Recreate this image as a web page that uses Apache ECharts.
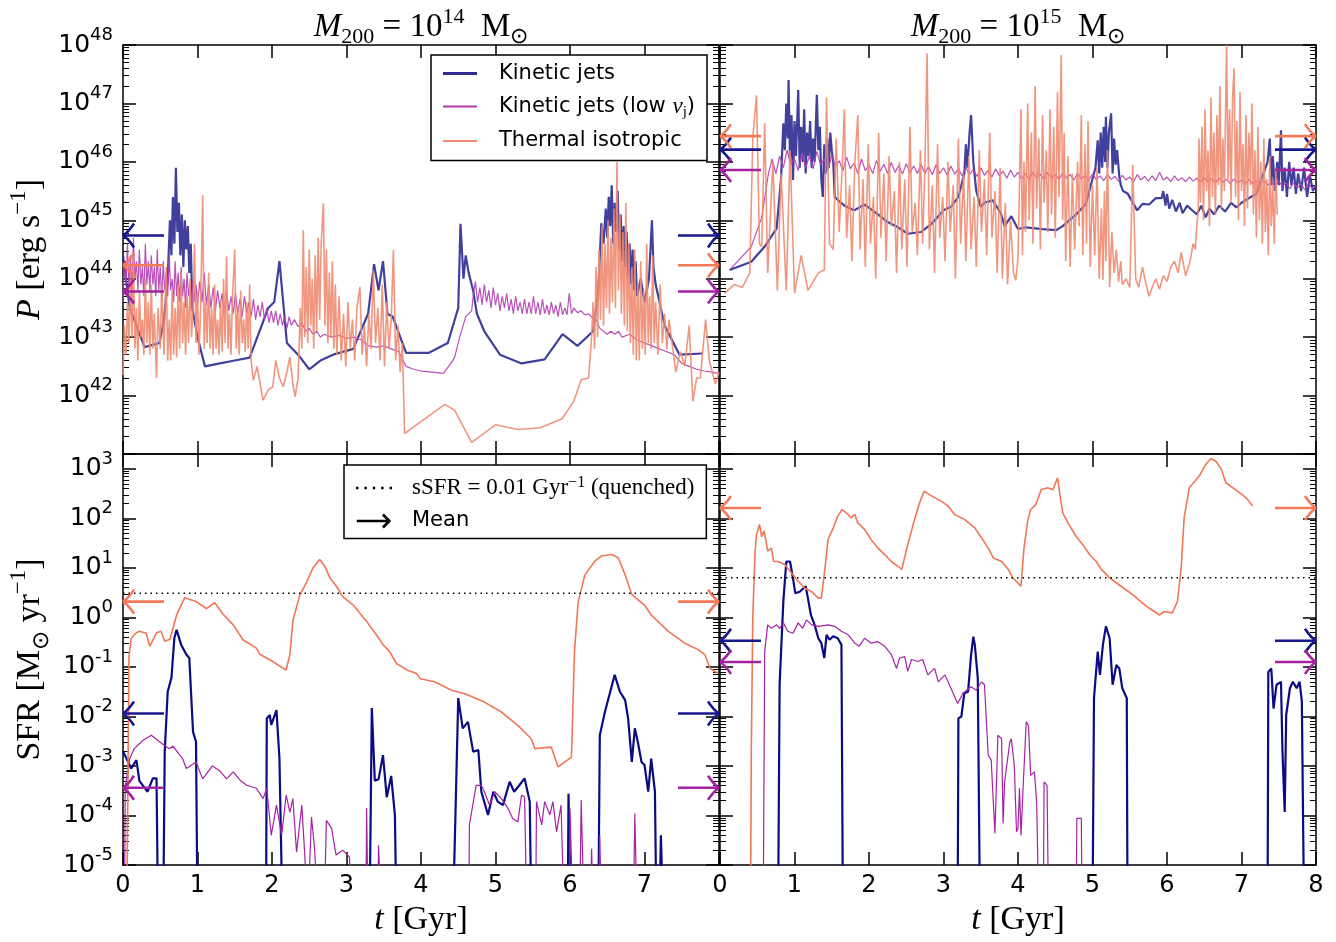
<!DOCTYPE html>
<html><head><meta charset="utf-8">
<script src="https://cdn.jsdelivr.net/npm/echarts@6/dist/echarts.min.js"></script>
<style>html,body{margin:0;padding:0;background:#fff}#c{width:1336px;height:942px}</style>
</head><body><div id="c"></div>
<script>
// ---------------- DATA (t in Gyr, values are log10) ----------------
// Jet power log10(P / erg s^-1), M200 = 1e14
const p14Kinetic = [[0,44.4],[0.04,44.0],[0.09,43.5],[0.29,42.83],[0.49,42.9],[0.55,43.3],[0.6,44.0],[0.63,45.0],[0.65,44.4],[0.67,45.4],[0.69,44.6],[0.71,45.9],[0.73,44.8],[0.75,45.3],[0.77,44.4],[0.79,45.1],[0.81,44.2],[0.83,45.0],[0.85,44.5],[0.87,44.9],[0.89,44.1],[0.91,44.6],[0.93,43.5],[1.0,43.0],[1.1,42.5],[1.3,42.55],[1.5,42.6],[1.7,42.65],[1.95,43.5],[2.03,43.6],[2.1,44.3],[2.2,42.9],[2.35,42.7],[2.5,42.45],[2.65,42.6],[2.82,42.7],[3.09,42.8],[3.29,43.4],[3.37,44.25],[3.43,43.8],[3.49,44.3],[3.55,43.4],[3.62,43.35],[3.8,42.73],[4.1,42.73],[4.36,42.9],[4.5,43.5],[4.53,44.94],[4.57,44.0],[4.6,44.4],[4.64,44.1],[4.7,43.8],[4.75,43.4],[4.85,43.1],[5.06,42.7],[5.35,42.55],[5.66,42.62],[5.9,43.05],[6.1,42.85],[6.31,43.1],[6.38,43.8],[6.42,44.95],[6.45,44.6],[6.48,45.2],[6.5,44.7],[6.52,45.4],[6.54,44.9],[6.56,45.6],[6.58,44.6],[6.6,45.3],[6.62,44.8],[6.64,45.5],[6.66,44.5],[6.68,45.1],[6.7,44.3],[6.72,44.9],[6.74,44.2],[6.76,44.8],[6.78,44.0],[6.8,44.6],[6.82,43.9],[6.84,44.5],[6.86,43.8],[6.88,44.3],[6.9,43.7],[6.95,44.0],[7.0,43.6],[7.06,44.0],[7.1,45.0],[7.12,44.2],[7.15,43.9],[7.27,43.2],[7.47,42.7],[7.78,42.72]];
const p14LowVj = [[0,43.6],[0.02,44.3],[0.04,43.9],[0.06,44.6],[0.08,43.8],[0.1,44.4],[0.12,43.7],[0.14,44.7],[0.16,44.0],[0.18,44.3],[0.2,43.8],[0.22,44.5],[0.24,43.9],[0.26,44.2],[0.28,43.7],[0.3,44.6],[0.32,43.9],[0.34,44.3],[0.36,43.8],[0.38,44.4],[0.4,43.9],[0.42,44.2],[0.44,43.7],[0.46,44.5],[0.48,43.8],[0.5,44.2],[0.52,43.6],[0.54,44.3],[0.56,43.8],[0.58,44.1],[0.6,43.7],[0.62,44.4],[0.64,43.8],[0.66,44.0],[0.68,43.6],[0.7,44.3],[0.72,43.7],[0.74,44.1],[0.76,43.6],[0.78,44.2],[0.8,43.7],[0.82,44.0],[0.84,43.5],[0.86,44.1],[0.88,43.7],[0.9,43.9],[0.92,43.5],[0.94,44.0],[0.96,43.6],[0.98,43.9],[1.0,43.55],[1.03,43.95],[1.06,43.6],[1.09,44.1],[1.12,43.55],[1.15,43.9],[1.18,43.5],[1.21,43.85],[1.24,43.45],[1.27,43.8],[1.3,43.5],[1.33,43.75],[1.36,43.4],[1.39,43.8],[1.42,43.45],[1.45,43.7],[1.48,43.4],[1.51,43.75],[1.54,43.4],[1.57,43.65],[1.6,43.35],[1.63,43.7],[1.66,43.4],[1.69,43.6],[1.72,43.35],[1.75,43.65],[1.78,43.3],[1.81,43.55],[1.84,43.35],[1.87,43.6],[1.9,43.3],[1.93,43.5],[1.96,43.25],[1.99,43.45],[2.02,43.25],[2.05,43.45],[2.08,43.2],[2.11,43.4],[2.14,43.2],[2.17,43.35],[2.2,43.15],[2.23,43.35],[2.26,43.2],[2.3,43.3],[2.35,43.18],[2.4,43.25],[2.45,43.1],[2.5,43.15],[2.55,43.05],[2.6,43.1],[2.65,43.0],[2.7,43.05],[2.8,43.0],[2.9,43.03],[3.0,42.98],[3.1,43.0],[3.2,42.95],[3.3,42.85],[3.4,42.83],[3.5,42.85],[3.6,42.8],[3.7,42.75],[3.8,42.5],[3.9,42.45],[4.0,42.42],[4.15,42.4],[4.3,42.38],[4.4,42.55],[4.45,42.65],[4.52,43.0],[4.6,43.35],[4.68,43.45],[4.7,43.7],[4.73,43.95],[4.76,43.6],[4.79,43.85],[4.82,43.55],[4.85,43.9],[4.88,43.6],[4.91,43.8],[4.94,43.5],[4.97,43.85],[5.0,43.55],[5.03,43.75],[5.06,43.45],[5.09,43.7],[5.12,43.5],[5.15,43.75],[5.18,43.45],[5.21,43.65],[5.24,43.4],[5.27,43.7],[5.3,43.45],[5.33,43.6],[5.36,43.4],[5.39,43.65],[5.42,43.4],[5.45,43.6],[5.48,43.4],[5.51,43.7],[5.54,43.4],[5.57,43.6],[5.6,43.38],[5.63,43.65],[5.66,43.4],[5.69,43.55],[5.72,43.38],[5.75,43.6],[5.78,43.4],[5.81,43.55],[5.84,43.35],[5.87,43.6],[5.9,43.38],[5.93,43.5],[5.96,43.38],[5.99,43.75],[6.02,43.4],[6.05,43.5],[6.1,43.42],[6.15,43.45],[6.2,43.38],[6.25,43.4],[6.3,43.33],[6.35,43.3],[6.4,43.15],[6.45,43.1],[6.5,43.05],[6.55,43.1],[6.6,43.05],[6.65,43.1],[6.7,43.0],[6.8,43.05],[6.9,42.95],[7.0,42.9],[7.1,42.85],[7.2,42.8],[7.3,42.75],[7.4,42.7],[7.5,42.55],[7.6,42.5],[7.7,42.45],[7.8,42.42],[7.9,42.4],[8.0,42.38]];
const p14Thermal = [[0,42.35],[0.02,43.2],[0.04,42.7],[0.06,43.6],[0.08,42.9],[0.1,44.0],[0.12,43.0],[0.14,44.4],[0.16,42.8],[0.18,43.5],[0.2,42.6],[0.22,43.8],[0.24,43.0],[0.26,43.3],[0.28,42.7],[0.3,44.0],[0.32,42.9],[0.34,43.6],[0.36,42.7],[0.38,43.9],[0.4,42.8],[0.42,43.4],[0.45,42.3],[0.47,43.5],[0.5,42.8],[0.52,43.9],[0.55,42.7],[0.58,44.2],[0.6,42.6],[0.62,43.3],[0.64,42.6],[0.66,43.8],[0.68,42.7],[0.7,43.5],[0.72,42.65],[0.74,43.9],[0.76,42.8],[0.78,44.1],[0.8,42.9],[0.82,43.6],[0.84,42.7],[0.86,43.7],[0.88,42.9],[0.9,44.0],[0.92,43.0],[0.94,43.5],[0.96,44.6],[0.98,42.9],[1.0,43.8],[1.02,42.7],[1.04,43.4],[1.07,45.43],[1.09,42.8],[1.11,43.6],[1.13,42.9],[1.15,44.1],[1.17,42.8],[1.19,43.5],[1.21,42.7],[1.23,43.9],[1.25,42.8],[1.27,43.3],[1.29,42.7],[1.31,43.6],[1.33,42.75],[1.35,44.0],[1.37,42.9],[1.39,44.38],[1.41,42.8],[1.43,43.4],[1.45,42.7],[1.47,43.7],[1.5,44.5],[1.52,42.8],[1.54,43.5],[1.56,42.7],[1.58,43.8],[1.6,42.9],[1.62,43.3],[1.64,42.75],[1.66,43.6],[1.68,42.8],[1.7,43.9],[1.72,42.6],[1.75,42.26],[1.8,42.5],[1.88,41.92],[1.95,42.1],[2.01,42.15],[2.05,42.6],[2.1,42.3],[2.15,42.15],[2.2,42.4],[2.24,42.66],[2.28,42.2],[2.31,41.98],[2.35,42.3],[2.38,43.5],[2.4,42.8],[2.42,44.83],[2.44,43.0],[2.46,44.2],[2.48,42.9],[2.5,44.5],[2.52,43.2],[2.54,44.0],[2.56,42.8],[2.58,44.4],[2.6,43.1],[2.62,44.7],[2.64,43.3],[2.66,44.6],[2.69,45.29],[2.71,43.2],[2.73,44.5],[2.75,42.9],[2.77,44.1],[2.79,43.0],[2.81,44.3],[2.83,42.8],[2.85,43.9],[2.87,42.7],[2.9,43.7],[2.93,42.6],[2.96,43.4],[2.99,42.5],[3.02,43.6],[3.05,42.8],[3.08,43.3],[3.11,42.6],[3.14,43.5],[3.18,43.86],[3.21,42.7],[3.24,43.2],[3.27,42.5],[3.3,43.4],[3.33,42.8],[3.36,44.15],[3.39,42.9],[3.42,43.5],[3.45,42.6],[3.48,43.9],[3.51,42.5],[3.54,43.6],[3.57,42.8],[3.6,43.3],[3.63,44.49],[3.66,42.6],[3.69,43.2],[3.72,42.4],[3.75,42.9],[3.78,41.35],[3.96,41.52],[4.05,41.6],[4.32,41.85],[4.45,41.75],[4.68,41.2],[5.0,41.5],[5.3,41.42],[5.6,41.45],[5.89,41.6],[6.05,41.9],[6.15,42.27],[6.25,42.3],[6.29,43.0],[6.31,43.6],[6.33,42.8],[6.35,44.2],[6.37,43.0],[6.39,44.5],[6.41,43.3],[6.43,44.9],[6.45,43.2],[6.47,44.6],[6.49,43.5],[6.51,45.0],[6.53,43.4],[6.55,44.7],[6.57,43.6],[6.59,45.2],[6.61,43.5],[6.63,46.0],[6.65,43.8],[6.67,45.1],[6.69,43.4],[6.71,44.8],[6.73,43.2],[6.75,45.3],[6.77,43.1],[6.79,44.6],[6.81,42.9],[6.83,44.2],[6.85,42.7],[6.87,44.5],[6.89,42.6],[6.91,43.9],[6.93,42.6],[6.95,44.3],[6.97,42.8],[6.99,43.8],[7.01,42.7],[7.03,44.6],[7.05,42.9],[7.07,43.7],[7.09,42.8],[7.11,44.4],[7.13,42.9],[7.15,43.6],[7.18,42.7],[7.21,43.9],[7.24,42.9],[7.27,43.4],[7.3,42.8],[7.33,43.3],[7.37,42.9],[7.42,42.4],[7.48,42.75],[7.54,42.5],[7.6,43.2],[7.65,41.9],[7.7,42.3],[7.75,42.3],[7.82,43.3],[7.87,42.6],[7.95,42.2],[8.0,42.4]];

// Jet power, M200 = 1e15
const p15Kinetic = [[0.13,44.15],[0.42,44.29],[0.6,44.55],[0.76,44.86],[0.82,45.72],[0.85,46.66],[0.87,46.2],[0.89,47.0],[0.91,46.4],[0.92,47.4],[0.94,46.0],[0.96,46.8],[0.98,45.69],[1.0,46.7],[1.02,46.1],[1.05,47.23],[1.07,45.9],[1.09,46.6],[1.11,46.0],[1.13,46.9],[1.15,45.8],[1.17,46.5],[1.19,46.1],[1.21,46.7],[1.23,45.9],[1.25,46.4],[1.27,46.0],[1.3,47.15],[1.32,46.2],[1.34,46.6],[1.36,45.7],[1.38,45.4],[1.4,46.3],[1.42,45.8],[1.44,46.4],[1.46,45.9],[1.48,46.5],[1.5,46.2],[1.52,46.0],[1.54,45.4],[1.58,45.35],[1.67,45.25],[1.8,45.17],[1.94,45.27],[2.12,45.1],[2.25,44.97],[2.39,44.88],[2.52,44.77],[2.7,44.8],[2.84,44.94],[3.0,45.17],[3.1,45.23],[3.2,45.4],[3.28,45.8],[3.3,46.3],[3.32,45.9],[3.35,46.5],[3.37,46.8],[3.4,46.0],[3.44,45.5],[3.5,45.23],[3.55,45.3],[3.66,45.34],[3.77,45.12],[3.82,44.9],[3.91,45.07],[4.0,44.85],[4.1,44.88],[4.33,44.85],[4.51,44.83],[4.6,44.9],[4.78,45.1],[4.91,45.28],[5.04,45.9],[5.07,46.37],[5.09,45.8],[5.11,46.5],[5.13,45.9],[5.15,46.6],[5.17,46.0],[5.18,46.77],[5.2,45.9],[5.22,46.5],[5.25,46.83],[5.27,45.8],[5.29,46.4],[5.31,45.95],[5.33,46.2],[5.36,45.75],[5.38,45.6],[5.41,45.5],[5.47,45.46],[5.6,45.17],[5.67,45.28],[5.76,45.27],[5.85,45.38],[5.93,45.38],[5.95,45.5],[5.98,45.25],[6.0,45.45],[6.03,45.2],[6.07,45.35],[6.12,45.15],[6.17,45.3],[6.21,45.12],[6.27,45.25],[6.33,45.18],[6.4,45.1],[6.46,45.25],[6.52,45.05],[6.57,45.2],[6.63,45.1],[6.7,45.25],[6.78,45.15],[6.86,45.3],[6.93,45.22],[7.0,45.3],[7.1,45.38],[7.2,45.45],[7.28,45.75],[7.35,46.0],[7.38,46.4],[7.4,45.6],[7.42,46.1],[7.45,45.5],[7.48,46.0],[7.5,45.6],[7.53,46.54],[7.55,45.5],[7.58,45.9],[7.61,45.4],[7.64,46.0],[7.67,45.6],[7.7,45.9],[7.73,45.45],[7.76,45.8],[7.8,45.5],[7.84,45.9],[7.88,45.4],[7.92,45.75],[7.96,45.5],[8.0,45.6]];
const p15LowVj = [[0.13,44.15],[0.42,44.55],[0.56,45.05],[0.65,45.8],[0.7,46.05],[0.75,45.8],[0.8,46.1],[0.85,45.9],[0.9,46.2],[0.95,45.95],[1.0,46.05],[1.05,45.85],[1.1,46.15],[1.15,45.9],[1.2,46.1],[1.25,45.88],[1.3,46.18],[1.35,45.95],[1.4,46.05],[1.45,45.85],[1.5,46.12],[1.55,45.92],[1.6,46.02],[1.65,45.85],[1.7,46.08],[1.75,45.88],[1.8,45.98],[1.85,45.8],[1.9,46.05],[1.95,45.85],[2.0,45.95],[2.05,45.8],[2.1,46.02],[2.15,45.84],[2.2,45.96],[2.25,45.8],[2.3,45.99],[2.35,45.82],[2.4,45.94],[2.45,45.79],[2.5,45.97],[2.55,45.81],[2.6,45.93],[2.65,45.8],[2.7,45.96],[2.75,45.8],[2.8,45.92],[2.85,45.78],[2.9,45.95],[2.95,45.8],[3.0,45.9],[3.05,45.77],[3.1,45.93],[3.15,45.79],[3.2,45.88],[3.25,45.76],[3.3,45.91],[3.35,45.78],[3.4,45.87],[3.45,45.75],[3.5,45.9],[3.55,45.77],[3.6,45.86],[3.65,45.74],[3.7,45.88],[3.75,45.76],[3.8,45.84],[3.85,45.72],[3.9,45.86],[3.95,45.74],[4.0,45.82],[4.05,45.71],[4.1,45.8],[4.15,45.7],[4.2,45.82],[4.25,45.72],[4.3,45.79],[4.35,45.69],[4.4,45.82],[4.45,45.72],[4.5,45.78],[4.55,45.7],[4.6,45.81],[4.65,45.72],[4.7,45.78],[4.75,45.69],[4.8,45.8],[4.85,45.71],[4.9,45.77],[4.95,45.68],[5.0,45.79],[5.05,45.7],[5.1,45.76],[5.15,45.68],[5.2,45.78],[5.25,45.7],[5.3,45.75],[5.35,45.67],[5.4,45.77],[5.45,45.69],[5.5,45.74],[5.55,45.66],[5.6,45.78],[5.65,45.69],[5.7,45.75],[5.75,45.67],[5.8,45.76],[5.85,45.68],[5.9,45.82],[5.95,45.69],[6.0,45.74],[6.05,45.66],[6.1,45.76],[6.15,45.68],[6.2,45.73],[6.25,45.66],[6.3,45.74],[6.35,45.67],[6.4,45.72],[6.45,45.65],[6.5,45.73],[6.55,45.66],[6.6,45.71],[6.65,45.64],[6.7,45.72],[6.75,45.65],[6.8,45.7],[6.85,45.63],[6.9,45.71],[6.95,45.64],[7.0,45.69],[7.05,45.62],[7.1,45.7],[7.15,45.63],[7.2,45.68],[7.25,45.61],[7.3,45.69],[7.35,45.6],[7.4,45.66],[7.45,45.57],[7.5,45.67],[7.55,45.58],[7.6,45.64],[7.65,45.54],[7.7,45.64],[7.75,45.56],[7.8,45.62],[7.85,45.52],[7.9,45.64],[7.95,45.54],[8.0,45.6]];
const p15Thermal = [[0.06,43.75],[0.19,43.9],[0.3,43.85],[0.4,44.1],[0.44,46.4],[0.49,47.14],[0.53,44.6],[0.56,44.55],[0.6,46.66],[0.64,44.1],[0.71,46.0],[0.77,43.8],[0.82,45.8],[0.89,43.8],[0.94,46.2],[1.0,43.75],[1.09,44.4],[1.18,43.8],[1.32,44.1],[1.4,44.15],[1.43,47.1],[1.47,44.6],[1.52,44.5],[1.56,46.4],[1.6,44.8],[1.64,45.9],[1.67,46.9],[1.7,44.7],[1.74,45.6],[1.77,44.3],[1.81,46.0],[1.85,46.8],[1.88,44.5],[1.92,45.7],[1.95,44.2],[1.99,46.3],[2.02,44.6],[2.06,45.4],[2.09,44.0],[2.13,46.5],[2.16,44.7],[2.2,45.8],[2.23,44.3],[2.27,46.1],[2.3,44.9],[2.34,45.5],[2.37,44.1],[2.41,46.0],[2.44,44.5],[2.48,45.7],[2.51,44.2],[2.55,46.6],[2.58,44.8],[2.62,45.3],[2.65,44.4],[2.69,46.2],[2.72,44.6],[2.75,45.9],[2.78,47.86],[2.81,44.5],[2.85,45.6],[2.88,44.1],[2.92,46.3],[2.95,44.7],[2.99,45.4],[3.02,44.3],[3.06,46.0],[3.09,44.8],[3.13,45.6],[3.16,44.0],[3.2,46.4],[3.23,44.6],[3.27,45.8],[3.3,44.3],[3.34,46.1],[3.37,44.5],[3.41,45.4],[3.44,44.2],[3.48,46.2],[3.51,44.8],[3.55,45.7],[3.58,44.4],[3.62,46.5],[3.65,44.7],[3.69,45.5],[3.72,44.1],[3.76,45.9],[3.79,44.0],[3.83,45.3],[3.86,43.9],[3.9,45.0],[3.94,44.1],[3.97,43.97],[4.0,44.35],[4.04,46.9],[4.06,44.4],[4.08,46.0],[4.1,44.8],[4.13,47.0],[4.15,45.0],[4.18,46.5],[4.2,44.6],[4.23,47.3],[4.25,45.2],[4.28,46.4],[4.3,44.5],[4.33,46.8],[4.35,45.3],[4.38,46.2],[4.4,44.8],[4.43,46.9],[4.45,45.1],[4.48,46.6],[4.5,44.7],[4.53,47.2],[4.55,45.4],[4.58,47.83],[4.6,45.0],[4.62,46.5],[4.64,44.3],[4.67,46.1],[4.7,44.2],[4.73,45.8],[4.76,44.5],[4.8,46.0],[4.82,44.9],[4.85,46.8],[4.87,44.4],[4.9,46.3],[4.92,44.6],[4.94,46.7],[4.97,44.2],[5.0,45.6],[5.03,44.4],[5.06,45.9],[5.09,44.0],[5.12,45.2],[5.14,43.98],[5.16,45.5],[5.18,44.3],[5.2,46.2],[5.23,43.86],[5.26,44.8],[5.29,44.1],[5.32,44.5],[5.35,43.95],[5.38,44.3],[5.4,43.9],[5.45,44.0],[5.5,43.85],[5.54,45.95],[5.58,44.0],[5.62,43.85],[5.67,44.2],[5.72,43.9],[5.76,43.7],[5.8,43.85],[5.85,44.0],[5.9,43.82],[5.95,44.05],[6.0,43.95],[6.05,44.2],[6.1,44.3],[6.15,44.1],[6.19,44.45],[6.25,44.05],[6.31,44.3],[6.35,44.6],[6.38,44.5],[6.4,44.9],[6.42,45.2],[6.43,46.4],[6.45,45.3],[6.47,46.6],[6.49,45.0],[6.51,46.9],[6.53,45.5],[6.55,46.2],[6.57,44.9],[6.59,47.1],[6.61,45.4],[6.63,46.5],[6.65,45.1],[6.67,46.8],[6.69,45.6],[6.71,47.3],[6.73,45.2],[6.75,46.4],[6.77,45.5],[6.8,48.0],[6.82,45.7],[6.84,46.9],[6.86,45.3],[6.88,47.1],[6.9,47.6],[6.92,45.4],[6.94,46.7],[6.96,45.0],[6.98,47.2],[7.0,45.5],[7.02,46.3],[7.04,44.9],[7.06,46.8],[7.08,45.2],[7.1,46.5],[7.12,45.6],[7.14,47.0],[7.16,45.1],[7.18,46.2],[7.2,44.7],[7.22,46.6],[7.24,45.0],[7.26,46.0],[7.28,44.6],[7.3,46.4],[7.32,44.8],[7.34,45.7],[7.36,44.4],[7.38,46.1],[7.4,44.9],[7.42,45.6],[7.44,44.6],[7.46,45.9],[7.48,45.1]];

// Star formation rate log10(SFR / Msun yr^-1); -6 marks SFR = 0 (falls below the axis)
const sfr14Kinetic = [[0,-2.7],[0.11,-3.05],[0.18,-2.88],[0.22,-3.3],[0.33,-3.52],[0.4,-3.25],[0.45,-3.25],[0.47,-6],[0.54,-6],[0.56,-2.71],[0.6,-1.5],[0.65,-1.22],[0.69,-0.41],[0.72,-0.25],[0.78,-0.55],[0.85,-0.75],[0.89,-0.82],[0.94,-2.31],[0.98,-2.51],[1.0,-6],[1.92,-6],[1.93,-2.04],[1.97,-1.97],[1.99,-2.17],[2.06,-1.87],[2.1,-2.85],[2.14,-6],[3.31,-6],[3.34,-1.83],[3.38,-3.3],[3.43,-3.27],[3.49,-2.78],[3.54,-3.63],[3.6,-3.2],[3.65,-4.0],[3.67,-6],[4.43,-6],[4.5,-1.63],[4.56,-2.24],[4.63,-2.11],[4.7,-2.71],[4.77,-2.68],[4.81,-3.52],[4.9,-3.99],[4.97,-3.52],[5.03,-3.72],[5.1,-3.79],[5.19,-3.32],[5.25,-3.52],[5.32,-3.39],[5.39,-3.25],[5.46,-3.72],[5.48,-6],[5.97,-6],[5.98,-3.56],[6.01,-6],[6.38,-6],[6.4,-2.38],[6.47,-1.9],[6.54,-1.5],[6.6,-1.16],[6.67,-1.5],[6.74,-1.67],[6.78,-2.04],[6.83,-2.92],[6.87,-2.24],[6.91,-2.51],[6.96,-2.92],[7.0,-2.98],[7.05,-3.52],[7.09,-2.85],[7.14,-3.52],[7.16,-6],[7.2,-6],[7.22,-4.4],[7.25,-6]];
const sfr14LowVj = [[0.02,-6],[0.03,-3.4],[0.09,-2.85],[0.15,-2.65],[0.27,-2.48],[0.38,-2.38],[0.49,-2.51],[0.62,-2.65],[0.67,-2.6],[0.8,-2.85],[0.85,-3.05],[0.98,-2.92],[1.07,-3.26],[1.2,-3.0],[1.3,-3.1],[1.39,-3.26],[1.48,-3.12],[1.58,-3.3],[1.66,-3.39],[1.79,-3.45],[1.88,-3.66],[1.93,-3.45],[1.99,-4.4],[2.06,-3.79],[2.13,-4.4],[2.19,-3.59],[2.24,-3.93],[2.28,-3.66],[2.33,-4.74],[2.4,-3.79],[2.44,-4.8],[2.48,-6],[2.53,-4.03],[2.57,-4.64],[2.62,-6],[2.7,-6],[2.73,-4.1],[2.8,-4.26],[2.86,-4.8],[2.95,-4.7],[3.04,-4.84],[3.07,-6],[3.26,-6],[3.27,-3.85],[3.29,-6],[3.42,-6],[3.43,-4.6],[3.47,-6],[4.64,-6],[4.65,-4.19],[4.74,-3.39],[4.81,-3.39],[4.85,-3.52],[4.92,-3.79],[4.99,-3.52],[5.08,-3.66],[5.17,-3.86],[5.23,-4.06],[5.3,-4.13],[5.35,-3.59],[5.39,-3.62],[5.42,-6],[5.54,-6],[5.55,-3.72],[5.62,-4.19],[5.66,-3.72],[5.73,-3.99],[5.77,-3.72],[5.82,-4.33],[5.88,-3.79],[5.92,-6],[5.99,-6],[6.0,-3.86],[6.04,-6],[6.13,-6],[6.15,-3.69],[6.19,-6],[6.27,-6],[6.29,-4.67],[6.31,-6],[6.38,-6],[6.4,-4.4],[6.42,-6],[6.85,-6],[6.87,-3.96],[6.9,-6]];
const sfr14Thermal = [[0.05,-6],[0.065,-3.5],[0.08,-0.8],[0.11,-0.42],[0.18,-0.31],[0.22,-0.28],[0.31,-0.32],[0.36,-0.58],[0.45,-0.31],[0.51,-0.28],[0.56,-0.48],[0.63,-0.44],[0.72,0.05],[0.83,0.4],[0.98,0.32],[1.12,0.18],[1.23,0.3],[1.34,0.07],[1.48,-0.15],[1.61,-0.45],[1.79,-0.62],[1.84,-0.75],[2.01,-0.89],[2.15,-1.03],[2.19,-1.06],[2.24,-0.75],[2.28,-0.07],[2.37,0.44],[2.46,0.7],[2.55,1.0],[2.64,1.17],[2.71,1.03],[2.78,0.79],[2.87,0.62],[2.95,0.42],[3.09,0.25],[3.27,-0.08],[3.4,-0.35],[3.49,-0.55],[3.58,-0.69],[3.67,-0.93],[3.81,-1.06],[3.94,-1.13],[3.99,-1.24],[4.18,-1.3],[4.41,-1.47],[4.59,-1.54],[4.85,-1.71],[5.08,-1.91],[5.3,-2.18],[5.48,-2.45],[5.53,-2.65],[5.75,-2.62],[5.84,-3.02],[6.02,-2.82],[6.06,-0.69],[6.11,0.32],[6.2,0.86],[6.33,1.13],[6.42,1.24],[6.56,1.27],[6.65,1.2],[6.74,0.86],[6.83,0.46],[7.0,0.25],[7.09,0.05],[7.32,-0.28],[7.54,-0.52],[7.72,-0.65],[7.81,-0.75],[7.88,-1.03],[7.99,-1.13]];

const sfr15Kinetic = [[0.78,-6],[0.8,-1.36],[0.85,0.32],[0.89,1.13],[0.94,1.13],[0.98,0.79],[1.01,0.49],[1.07,0.52],[1.15,0.63],[1.18,0.39],[1.22,0.05],[1.27,-0.15],[1.32,-0.42],[1.36,-0.52],[1.4,-0.82],[1.43,-0.35],[1.47,-0.45],[1.52,-0.38],[1.58,-0.42],[1.63,-0.55],[1.65,-6],[3.19,-6],[3.2,-2.04],[3.24,-2.0],[3.28,-1.53],[3.33,-1.5],[3.37,-0.76],[3.4,-0.39],[3.42,-0.55],[3.46,-1.22],[3.49,-6],[5.0,-6],[5.02,-1.63],[5.07,-0.69],[5.1,-1.16],[5.14,-0.55],[5.18,-0.18],[5.23,-0.42],[5.27,-1.36],[5.32,-0.96],[5.36,-1.03],[5.4,-1.43],[5.46,-1.63],[5.47,-6],[7.35,-6],[7.36,-1.1],[7.4,-1.03],[7.43,-1.84],[7.47,-1.36],[7.53,-1.3],[7.55,-2.71],[7.58,-3.93],[7.6,-1.97],[7.65,-1.43],[7.69,-1.3],[7.74,-1.43],[7.78,-1.3],[7.81,-1.7],[7.84,-6]];
const sfr15LowVj = [[0.58,-6],[0.6,-0.69],[0.64,-0.15],[0.69,-0.22],[0.76,-0.15],[0.8,-0.22],[0.85,-0.11],[0.91,-0.28],[0.98,-0.32],[1.05,-0.11],[1.11,-0.22],[1.16,-0.05],[1.23,-0.15],[1.32,-0.18],[1.45,-0.15],[1.54,-0.18],[1.63,-0.28],[1.72,-0.35],[1.81,-0.52],[1.87,-0.58],[1.94,-0.42],[2.03,-0.52],[2.12,-0.49],[2.21,-0.58],[2.3,-0.75],[2.37,-1.03],[2.41,-0.82],[2.48,-0.79],[2.52,-1.09],[2.57,-0.85],[2.66,-0.89],[2.72,-0.85],[2.79,-1.16],[2.88,-1.03],[2.93,-1.3],[3.02,-1.16],[3.1,-1.43],[3.19,-1.74],[3.26,-1.53],[3.37,-1.4],[3.44,-1.47],[3.51,-1.3],[3.55,-1.36],[3.6,-2.78],[3.64,-2.88],[3.69,-4.36],[3.73,-2.38],[3.78,-2.45],[3.8,-4.16],[3.82,-3.32],[3.89,-2.52],[3.91,-2.45],[3.95,-2.98],[3.98,-4.33],[4.0,-4.26],[4.02,-3.45],[4.04,-4.4],[4.07,-3.39],[4.11,-2.11],[4.14,-2.18],[4.17,-3.19],[4.22,-3.12],[4.25,-3.72],[4.28,-6],[4.34,-6],[4.35,-3.32],[4.39,-3.39],[4.41,-6],[4.78,-6],[4.79,-4.06],[4.85,-4.06],[4.86,-6]];
const sfr15Thermal = [[0.41,-6],[0.42,-2.71],[0.44,0.0],[0.47,1.3],[0.49,1.67],[0.53,1.88],[0.56,1.63],[0.59,1.75],[0.62,1.52],[0.64,1.34],[0.69,1.4],[0.72,1.13],[0.78,1.13],[0.87,1.07],[0.96,0.9],[1.05,0.73],[1.14,0.59],[1.23,0.52],[1.32,0.39],[1.36,0.39],[1.41,1.0],[1.45,1.57],[1.52,1.81],[1.58,2.04],[1.64,2.18],[1.72,2.08],[1.76,2.01],[1.81,2.08],[1.85,1.91],[1.94,1.78],[2.03,1.57],[2.12,1.4],[2.21,1.27],[2.3,1.13],[2.39,1.03],[2.44,0.97],[2.52,1.47],[2.61,1.97],[2.68,2.32],[2.74,2.55],[2.81,2.48],[2.88,2.42],[2.97,2.35],[3.06,2.25],[3.15,2.08],[3.28,1.98],[3.42,1.81],[3.51,1.61],[3.6,1.4],[3.67,1.2],[3.78,1.13],[3.87,0.97],[3.93,0.8],[3.97,0.74],[4.04,0.63],[4.08,1.4],[4.13,1.95],[4.17,2.18],[4.24,2.28],[4.31,2.58],[4.4,2.62],[4.47,2.58],[4.53,2.82],[4.6,2.11],[4.67,1.91],[4.78,1.64],[4.87,1.47],[4.96,1.27],[5.05,1.13],[5.12,0.97],[5.23,0.8],[5.41,0.6],[5.54,0.46],[5.67,0.29],[5.76,0.19],[5.9,0.05],[5.96,0.12],[6.07,0.09],[6.14,0.32],[6.19,1.0],[6.23,2.01],[6.3,2.62],[6.43,2.85],[6.52,3.09],[6.59,3.21],[6.66,3.15],[6.73,2.99],[6.79,2.72],[6.88,2.62],[6.97,2.52],[7.06,2.42],[7.15,2.25]];

// Time-averaged means (kinetic, low vj, thermal) and quenched threshold (log10 SFR)
const meanP14 = [44.74, 43.78, 44.23];
const meanP15 = [46.21, 45.86, 46.44];
const meanSfr14 = [-1.94, -3.44, 0.32];
const meanSfr15 = [-0.47, -0.90, 2.21];
const quenchedSfr = [0.49, 0.80];
const panelTitles = ['14', '15'];

// ---------------- STYLE ----------------
const SANS = 'DejaVu Sans';
const SERIF = 'Liberation Serif';
const topColors = ['#2c2c92', '#b23db2', '#ef8a70'];
const botColors = ['#0b0b84', '#a522a5', '#f27656'];
const arrowColors = ['#17178c', '#a3229f', '#f27a5a'];
const widths = [2.2, 1.2, 1.6];
const names = ['Kinetic jets', 'Kinetic jets (low vj)', 'Thermal isotropic'];

const chart = echarts.init(document.getElementById('c'));

const grids = [
  {left: 123, top: 45, width: 596, height: 409},
  {left: 720, top: 45, width: 596, height: 409},
  {left: 123, top: 454, width: 596, height: 411},
  {left: 720, top: 454, width: 596, height: 411}
];
const yRanges = [[41, 48], [41, 48], [-5, Math.log10(2000)], [-5, Math.log10(2000)]];

function minorValues(r) {
  const out = [];
  for (let n = Math.floor(r[0]); n < Math.ceil(r[1]); n++) {
    for (let k = 2; k <= 9; k++) {
      const v = n + Math.log10(k);
      if (v > r[0] && v < r[1]) out.push(v);
    }
  }
  return out;
}

const lineAx = {onZero: false, lineStyle: {color: '#000', width: 1.5}};
const tickRich = {
  b: {fontFamily: SANS, fontSize: 25, color: '#000', lineHeight: 38},
  s: {fontFamily: SANS, fontSize: 18, color: '#000', verticalAlign: 'top', lineHeight: 20}
};
const mathRich = {
  n: {fontFamily: SERIF, fontSize: 34, color: '#000', lineHeight: 46},
  it: {fontFamily: SERIF, fontSize: 34, fontStyle: 'italic', color: '#000', lineHeight: 46},
  sup: {fontFamily: SERIF, fontSize: 23, color: '#000', verticalAlign: 'top', lineHeight: 26},
  sub: {fontFamily: SERIF, fontSize: 23, color: '#000', verticalAlign: 'bottom', lineHeight: 30}
};

const xAxes = [], yAxes = [];
grids.forEach((g, i) => {
  const bottomRow = i >= 2, leftCol = i % 2 === 0;
  xAxes.push({
    gridIndex: i, type: 'value', min: 0, max: 8, interval: 1, position: 'bottom',
    axisLine: lineAx, axisTick: {inside: true, length: 13, lineStyle: {color: '#000', width: 1.5}},
    axisLabel: {show: bottomRow, color: '#000', fontFamily: SANS, fontSize: 24, margin: 9,
      formatter: v => (i === 2 && v === 8) ? '' : String(v)},
    splitLine: {show: false},
    name: bottomRow ? '{it|t}{n| [Gyr]}' : '', nameLocation: 'middle', nameGap: 32,
    nameTextStyle: {rich: mathRich}
  });
  xAxes.push({
    gridIndex: i, type: 'value', min: 0, max: 8, interval: 1, position: 'top',
    axisLine: lineAx, axisTick: {inside: true, length: 13, lineStyle: {color: '#000', width: 1.5}},
    axisLabel: {show: false}, splitLine: {show: false}
  });
  const r = yRanges[i];
  const hide = (i === 0) ? [41] : [];
  ['left', 'right'].forEach(side => {
    yAxes.push({
      gridIndex: i, type: 'value', min: r[0], max: r[1], interval: 1, position: side,
      axisLine: lineAx, axisTick: {inside: true, length: 13, lineStyle: {color: '#000', width: 1.5}},
      axisLabel: {show: side === 'left' && leftCol, margin: 10,
        formatter: v => {
          const k = Math.round(v);
          if (Math.abs(v - k) > 1e-6 || hide.indexOf(k) >= 0) return '';
          return '{b|10}{s|' + (k < 0 ? '-' + (-k) : k) + '}';
        }, rich: tickRich},
      splitLine: {show: false},
      name: (side === 'left' && leftCol) ? (i === 0 ? '{it|P}{n| [erg s}{sup|−1}{n|]}' : '{n|SFR [M}{sub|⊙}{n| yr}{sup|−1}{n|]}') : '',
      nameLocation: 'middle', nameRotate: 90, nameGap: 70,
      nameTextStyle: {rich: mathRich}
    });
    yAxes.push({
      gridIndex: i, type: 'value', min: r[0], max: r[1], position: side,
      axisLine: {show: false, onZero: false},
      axisTick: {inside: true, length: 6, customValues: minorValues(r), lineStyle: {color: '#000', width: 1}},
      axisLabel: {show: false}, splitLine: {show: false}
    });
  });
});

const panelData = [
  [p14Kinetic, p14LowVj, p14Thermal],
  [p15Kinetic, p15LowVj, p15Thermal],
  [sfr14Kinetic, sfr14LowVj, sfr14Thermal],
  [sfr15Kinetic, sfr15LowVj, sfr15Thermal]
];
const panelMeans = [meanP14, meanP15, meanSfr14, meanSfr15];

const series = [];
panelData.forEach((arr, i) => {
  const cols = i < 2 ? topColors : botColors;
  arr.forEach((d, s) => {
    series.push({
      type: 'line', name: names[s], data: d, xAxisIndex: 2 * i, yAxisIndex: 4 * i,
      symbol: 'none', showSymbol: false, clip: true, z: 2 + s,
      lineStyle: {color: cols[s], width: widths[s], opacity: i < 2 ? 0.9 : 1},
      itemStyle: {color: cols[s]}
    });
  });
  if (i >= 2) {
    series.push({
      type: 'line', name: 'sSFR', data: [[0, quenchedSfr[i - 2]], [8, quenchedSfr[i - 2]]],
      xAxisIndex: 2 * i, yAxisIndex: 4 * i, symbol: 'none', z: 6,
      lineStyle: {color: '#000', width: 1.5, type: [1.5, 4]}, itemStyle: {color: '#000'}
    });
  }
  const m = panelMeans[i];
  const arrows = [];
  m.forEach((v, s) => { arrows.push([0, v, -1, s]); arrows.push([8, v, 1, s]); });
  series.push({
    type: 'custom', name: 'Mean', coordinateSystem: 'cartesian2d',
    xAxisIndex: 2 * i, yAxisIndex: 4 * i, clip: false, z: 10, data: arrows,
    itemStyle: {color: '#000'},
    renderItem: (params, api) => {
      const p = api.coord([api.value(0), api.value(1)]);
      const dir = api.value(2);
      const col = arrowColors[api.value(3)];
      const sty = {stroke: col, lineWidth: 2.6, fill: null};
      return {type: 'group', children: [
        {type: 'line', shape: {x1: p[0], y1: p[1], x2: p[0] - dir * 41, y2: p[1]}, style: sty},
        {type: 'bezierCurve', shape: {x1: p[0], y1: p[1], x2: p[0] - dir * 11, y2: p[1] - 12, cpx1: p[0] - dir * 5, cpy1: p[1] - 3}, style: sty},
        {type: 'bezierCurve', shape: {x1: p[0], y1: p[1], x2: p[0] - dir * 11, y2: p[1] + 12, cpx1: p[0] - dir * 5, cpy1: p[1] + 3}, style: sty}
      ]};
    }
  });
});

const ARROW_ICON = 'path://M0,5.8L33.5,5.8L33.5,8.2L0,8.2Z M26.2,1.2L28.2,-0.8L35.8,7L33.8,9Z M33.8,5L35.8,7L28.2,14.8L26.2,12.8Z';
const THICK_ICON = 'path://M0,0L34,0L34,3.2L0,3.2Z';
const THIN_ICON = 'path://M0,0L34,0L34,2L0,2Z';
const DOT_ICON = 'path://M0,0L2,0L2,2L0,2Z M7,0L9,0L9,2L7,2Z M14,0L16,0L16,2L14,2Z M21,0L23,0L23,2L21,2Z M28,0L30,0L30,2L28,2Z';

const legendRich = {
  n: {fontFamily: SANS, fontSize: 21, color: '#000', lineHeight: 26},
  v: {fontFamily: SERIF, fontSize: 23, fontStyle: 'italic', color: '#000', lineHeight: 26},
  j: {fontFamily: SERIF, fontSize: 15, color: '#000', verticalAlign: 'bottom', lineHeight: 22},
  m: {fontFamily: SERIF, fontSize: 23, color: '#000', lineHeight: 26},
  ms: {fontFamily: SERIF, fontSize: 16, color: '#000', verticalAlign: 'top', lineHeight: 16}
};

const titleRich = {
  n: {fontFamily: SERIF, fontSize: 33, color: '#000', lineHeight: 42},
  it: {fontFamily: SERIF, fontSize: 33, fontStyle: 'italic', color: '#000', lineHeight: 42},
  sup: {fontFamily: SERIF, fontSize: 22, color: '#000', verticalAlign: 'top', lineHeight: 22},
  sub: {fontFamily: SERIF, fontSize: 22, color: '#000', verticalAlign: 'bottom', lineHeight: 32}
};

const graphics = panelTitles.map((e, k) => ({
  type: 'text', x: grids[k].left + grids[k].width / 2, y: 27, z: 20,
  style: {text: '{it|M}{sub|200}{n| = 10}{sup|' + e + '}{n|  M}{sub|⊙}', rich: titleRich,
    align: 'center', verticalAlign: 'middle'}
}));

chart.setOption({
  animation: false,
  backgroundColor: '#fff',
  grid: grids,
  xAxis: xAxes,
  yAxis: yAxes,
  series: series,
  graphic: graphics,
  legend: [
    {
      data: [{name: names[0], icon: THICK_ICON}, {name: names[1], icon: THIN_ICON}, {name: names[2], icon: THIN_ICON}],
      orient: 'vertical', left: 431, top: 55, selectedMode: false,
      padding: [8, 12, 9, 12], itemWidth: 34, itemHeight: 14, itemGap: 11,
      backgroundColor: '#fff', borderColor: '#000', borderWidth: 1.5, borderRadius: 0, z: 30,
      textStyle: {fontFamily: SANS, fontSize: 21, color: '#000', padding: [0, 0, 0, 17], rich: legendRich},
      formatter: n => n === names[1] ? '{n|Kinetic jets (low }{v|v}{j|j}{n|)}' : '{n|' + n + '}'
    },
    {
      data: [{name: 'sSFR', icon: DOT_ICON}, {name: 'Mean', icon: ARROW_ICON}], orient: 'vertical', left: 344, top: 465, selectedMode: false,
      padding: [10, 12, 7, 12], itemWidth: 36, itemHeight: 15, itemGap: 11,
      backgroundColor: '#fff', borderColor: '#000', borderWidth: 1.5, borderRadius: 0, z: 30,
      textStyle: {fontFamily: SANS, fontSize: 21, color: '#000', padding: [0, 0, 0, 15], rich: legendRich},
      formatter: n => n === 'sSFR' ? '{m|sSFR = 0.01 Gyr}{ms|−1}{m| (quenched)}' : '{n|' + n + '}'
    }
  ]
});
</script>
</body></html>
